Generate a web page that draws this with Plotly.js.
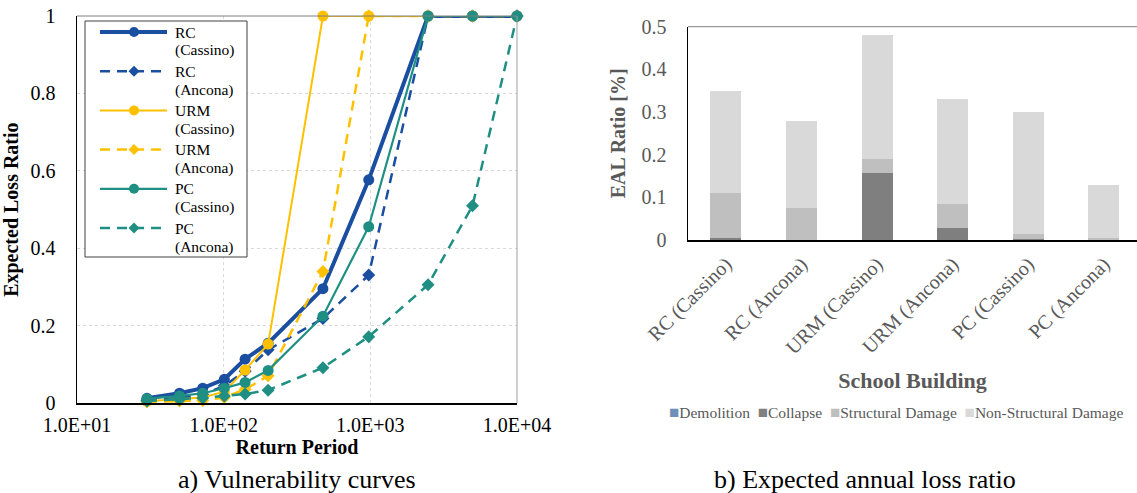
<!DOCTYPE html>
<html><head><meta charset="utf-8">
<script src="https://cdn.plot.ly/plotly-3.0.1.min.js"></script>
<style>html,body{margin:0;padding:0;background:#fff}#chart{width:1137px;height:493px}</style>
</head><body><div id="chart"></div>
<script>
// ---- Left chart: vulnerability curves ----
const returnPeriods = [30, 50, 72, 101, 140, 201, 475, 975, 2475, 4975, 10000];
const rcCassino  = [0.013, 0.026, 0.039, 0.062, 0.114, 0.155, 0.296, 0.577, 1, 1, 1];
const rcAncona   = [0.008, 0.014, 0.022, 0.045, 0.083, 0.138, 0.219, 0.331, 1, 1, 1];
const urmCassino = [0.005, 0.010, 0.015, 0.030, 0.086, 0.153, 1, 1, 1, 1, 1];
const urmAncona  = [0.004, 0.006, 0.007, 0.015, 0.036, 0.071, 0.340, 1, 1, 1, 1];
const pcCassino  = [0.012, 0.019, 0.026, 0.039, 0.054, 0.085, 0.225, 0.456, 1, 1, 1];
const pcAncona   = [0.006, 0.010, 0.014, 0.019, 0.024, 0.034, 0.092, 0.172, 0.306, 0.510, 1];
const seriesTypes = ['RC', 'RC', 'URM', 'URM', 'PC', 'PC'];
const seriesSites = ['(Cassino)', '(Ancona)', '(Cassino)', '(Ancona)', '(Cassino)', '(Ancona)'];
const xTickVals = [10, 100, 1000, 10000];
const xTickText = ['1.0E+01', '1.0E+02', '1.0E+03', '1.0E+04'];
const yTickVals = [0, 0.2, 0.4, 0.6, 0.8, 1];
const yTickText = ['0', '0.2', '0.4', '0.6', '0.8', '1'];

// ---- Right chart: EAL ratio ----
const buildings = ['RC (Cassino)', 'RC (Ancona)', 'URM (Cassino)', 'URM (Ancona)', 'PC (Cassino)', 'PC (Ancona)'];
const lossTypes = ['Demolition', 'Collapse', 'Structural Damage', 'Non-Structural Damage'];
const demolition    = [0, 0, 0, 0, 0, 0];
const collapse      = [0.005, 0, 0.156, 0.027, 0.003, 0];
const structural    = [0.105, 0.075, 0.034, 0.057, 0.011, 0.005];
const nonStructural = [0.240, 0.205, 0.290, 0.246, 0.286, 0.125];

const SERIF = 'Liberation Serif';
const BLUE = '#1a4ea0', GOLD = '#ffc000', TEAL = '#1f8f83';
const DASH = '10px,7px';
const BAR_COLORS = ['#6f8fb8', '#7f7f7f', '#bfbfbf', '#d9d9d9'];
const W = 1137, H = 493;

const styles = [
  {color: BLUE, width: 4,   dash: 'solid', symbol: 'circle'},
  {color: BLUE, width: 2.5, dash: DASH,    symbol: 'diamond'},
  {color: GOLD, width: 2,   dash: 'solid', symbol: 'circle'},
  {color: GOLD, width: 2.5, dash: DASH,    symbol: 'diamond'},
  {color: TEAL, width: 2.2, dash: 'solid', symbol: 'circle'},
  {color: TEAL, width: 2.5, dash: DASH,    symbol: 'diamond'}
];
const curves = [rcCassino, rcAncona, urmCassino, urmAncona, pcCassino, pcAncona];

const traces = curves.map(function (y, i) {
  const s = styles[i];
  return {
    type: 'scatter', mode: 'lines+markers', name: seriesTypes[i] + ' ' + seriesSites[i],
    x: returnPeriods, y: y, xaxis: 'x', yaxis: 'y',
    line: {color: s.color, width: s.width, dash: s.dash},
    marker: {color: s.color, size: s.symbol === 'circle' ? 11 : 10, symbol: s.symbol},
    cliponaxis: false, showlegend: false
  };
});

const barSeries = [demolition, collapse, structural, nonStructural];
barSeries.forEach(function (vals, i) {
  traces.push({type: 'bar', name: lossTypes[i], x: buildings, y: vals, xaxis: 'x2', yaxis: 'y2',
    marker: {color: BAR_COLORS[i], line: {width: 0}}, showlegend: false});
});

// ---- legends (drawn as shapes + text) ----
const px = function (x) { return x / W; };
const py = function (y) { return 1 - y / H; };
const shapes = [
  {type: 'line', xref: 'x domain', yref: 'y domain', x0: 0, x1: 1, y0: 1, y1: 1, line: {color: '#7f7f7f', width: 1}},
  {type: 'line', xref: 'x domain', yref: 'y domain', x0: 1, x1: 1, y0: 0, y1: 1, line: {color: '#9f9f9f', width: 1}},
  {type: 'line', xref: 'x2 domain', yref: 'y2 domain', x0: 0, x1: 1, y0: 1, y1: 1, line: {color: '#7f7f7f', width: 1}},
  {type: 'rect', xref: 'paper', yref: 'paper', x0: px(85), x1: px(247), y0: py(257), y1: py(21),
   fillcolor: '#fff', line: {color: '#404040', width: 1}, layer: 'above'}
];
const annotations = [];
const PITCH = 39.2;
styles.forEach(function (s, i) {
  const yl = 32 + PITCH * i;
  shapes.push({type: 'line', xref: 'paper', yref: 'paper', x0: px(100), x1: px(167), y0: py(yl), y1: py(yl),
    line: {color: s.color, width: s.width, dash: s.dash}, layer: 'above'});
  if (s.symbol === 'circle') {
    shapes.push({type: 'circle', xref: 'paper', yref: 'paper', xsizemode: 'pixel', ysizemode: 'pixel',
      xanchor: px(134), yanchor: py(yl), x0: -5, x1: 5, y0: -5, y1: 5,
      fillcolor: s.color, line: {width: 0}, layer: 'above'});
  } else {
    shapes.push({type: 'path', xref: 'paper', yref: 'paper', xsizemode: 'pixel', ysizemode: 'pixel',
      xanchor: px(134), yanchor: py(yl), path: 'M0,-5.5L5.5,0L0,5.5L-5.5,0Z',
      fillcolor: s.color, line: {width: 0}, layer: 'above'});
  }
  annotations.push({text: seriesTypes[i], xref: 'paper', yref: 'paper', x: px(173), y: py(yl),
    xanchor: 'left', yanchor: 'middle', showarrow: false, font: {size: 15.5, family: SERIF, color: '#000'}});
  annotations.push({text: seriesSites[i], xref: 'paper', yref: 'paper', x: px(173), y: py(yl + 18.5),
    xanchor: 'left', yanchor: 'middle', showarrow: false, font: {size: 15.5, family: SERIF, color: '#000'}});
});

const barLegendText = lossTypes.map(function (t, i) {
  return '<span style="color:' + BAR_COLORS[i] + ';font-size:17px">■</span>' + t;
}).join('&nbsp;&nbsp;');
annotations.push({text: barLegendText, xref: 'paper', yref: 'paper', x: px(896), y: py(412),
  xanchor: 'center', yanchor: 'middle', showarrow: false, font: {size: 15.5, family: SERIF, color: '#595959'}});
annotations.push({text: 'a) Vulnerability curves', xref: 'paper', yref: 'paper', x: px(297), y: py(479),
  xanchor: 'center', yanchor: 'middle', showarrow: false, font: {size: 26, family: SERIF, color: '#000'}});
annotations.push({text: 'b) Expected annual loss ratio', xref: 'paper', yref: 'paper', x: px(865), y: py(479),
  xanchor: 'center', yanchor: 'middle', showarrow: false, font: {size: 26, family: SERIF, color: '#000'}});

const layout = {
  width: W, height: H,
  margin: {l: 0, r: 0, t: 0, b: 0},
  paper_bgcolor: '#fff', plot_bgcolor: '#fff',
  font: {family: SERIF, color: '#000'},
  showlegend: false,
  barmode: 'stack', bargap: 0.59,
  xaxis: {
    domain: [px(77), px(517)], anchor: 'y', type: 'log', range: [1, 4],
    tickmode: 'array', tickvals: xTickVals, ticktext: xTickText,
    tickfont: {size: 20, family: SERIF, color: '#000'},
    showgrid: true, gridcolor: '#d9d9d9', griddash: 'dot', gridwidth: 1,
    showline: true, linecolor: '#000', linewidth: 1.5, zeroline: false,
    ticks: '', ticklabelstandoff: 3,
    title: {text: '<b>Return Period</b>', font: {size: 20, family: SERIF, color: '#000'}, standoff: 4},
    automargin: false
  },
  yaxis: {
    domain: [py(403.3), py(16)], anchor: 'x', range: [0, 1],
    tickmode: 'array', tickvals: yTickVals, ticktext: yTickText,
    tickfont: {size: 20, family: SERIF, color: '#000'},
    showgrid: true, gridcolor: '#d9d9d9', griddash: 'dot', gridwidth: 1,
    showline: true, linecolor: '#000', linewidth: 1.5, zeroline: false,
    ticks: '', ticklabelstandoff: 16,
    title: {text: '<b>Expected Loss Ratio</b>', font: {size: 20, family: SERIF, color: '#000'}, standoff: 6},
    automargin: false
  },
  xaxis2: {
    domain: [px(688), 1], anchor: 'y2', type: 'category', range: [-0.5, -0.5 + (W - 688) / 75.6],
    tickangle: -45, tickfont: {size: 20, family: SERIF, color: '#595959'},
    showgrid: false, showline: true, linecolor: '#000', linewidth: 1.5, zeroline: false,
    ticks: '', ticklabelstandoff: 3,
    title: {text: '<b>School Building</b>', font: {size: 22, family: SERIF, color: '#595959'}, standoff: 14},
    automargin: false
  },
  yaxis2: {
    domain: [py(240), py(26.7)], anchor: 'x2', range: [0, 0.5], dtick: 0.1,
    tickfont: {size: 20, family: SERIF, color: '#595959'},
    showgrid: false, showline: true, linecolor: '#000', linewidth: 1.5, zeroline: false,
    ticks: '', ticklabelstandoff: 16,
    title: {text: '<b>EAL Ratio [%]</b>', font: {size: 20, family: SERIF, color: '#595959'}, standoff: 10},
    automargin: false
  },
  shapes: shapes,
  annotations: annotations
};

Plotly.newPlot('chart', traces, layout, {staticPlot: true, displayModeBar: false});
</script>
</body></html>
